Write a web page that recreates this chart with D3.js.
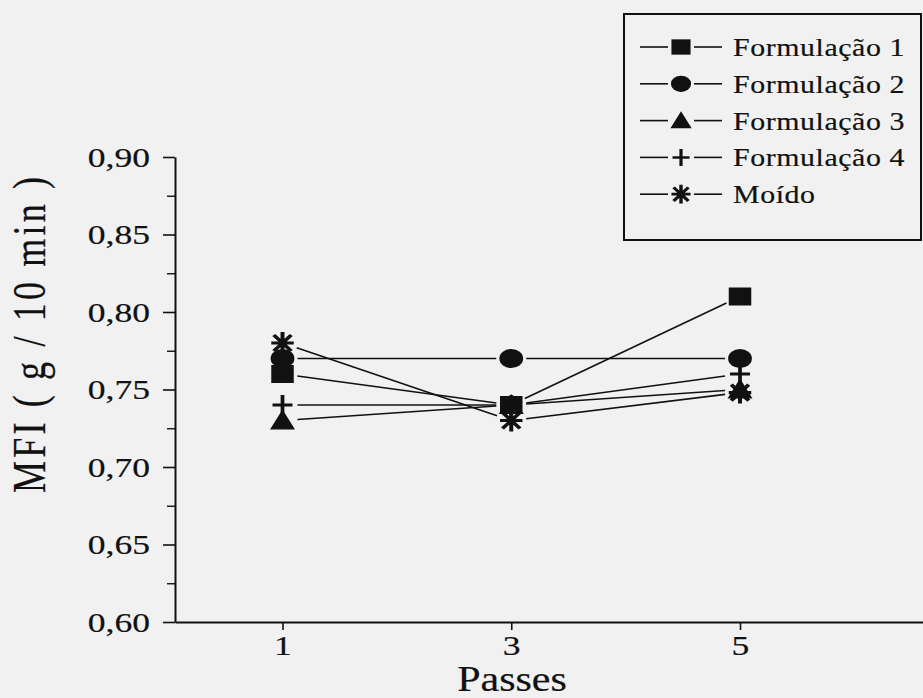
<!DOCTYPE html>
<html>
<head>
<meta charset="utf-8">
<script src="https://cdn.jsdelivr.net/npm/d3@7"></script>
<style>
  body { margin: 0; background: #f1f1f1; }
  text { font-family: "Liberation Serif", "Times New Roman", serif; fill: #111; stroke: #111; stroke-width: 0.2px; }
</style>
</head>
<body>
<div id="chart"></div>
<script>
// data
const passes = [1, 3, 5];
const seriesNames = ["Formulação 1", "Formulação 2", "Formulação 3", "Formulação 4", "Moído"];
const form1 = [0.76, 0.74, 0.81];
const form2 = [0.77, 0.77, 0.77];
const form3 = [0.73, 0.74, 0.75];
const form4 = [0.74, 0.74, 0.76];
const moido = [0.78, 0.73, 0.748];
const seriesValues = [form1, form2, form3, form4, moido];
const seriesMarkers = ["square", "circle", "triangle", "plus", "asterisk"];
const yTicks = [0.60, 0.65, 0.70, 0.75, 0.80, 0.85, 0.90];
const yMinorTicks = [0.625, 0.675, 0.725, 0.775, 0.825, 0.875];

const width = 923, height = 698;
const stretch = 1.25; // the scan is wider than tall

const svg = d3.select("#chart").append("svg")
    .attr("width", width)
    .attr("height", height);

svg.append("rect").attr("width", width).attr("height", height).attr("fill", "#f1f1f1");

const x = d3.scaleLinear().domain([0.06, 6.6]).range([175, 923]);
const y = d3.scaleLinear().domain([0.60, 0.90]).range([622, 157]);

// widen text horizontally around its anchor
function widen(sel, k) {
  sel.each(function() {
    const t = d3.select(this);
    const tx = +t.attr("x") || 0;
    t.attr("transform", `translate(${tx},0) scale(${k},1) translate(${-tx},0)`);
  });
}

// y axis
const yAxis = svg.append("g")
    .attr("transform", "translate(175,0)")
    .call(d3.axisLeft(y).tickValues(yTicks).tickSize(12).tickSizeOuter(0)
      .tickFormat(d => d3.format(".2f")(d).replace(".", ",")));
yAxis.attr("font-family", null);
yAxis.select(".domain").attr("stroke", "#111").attr("stroke-width", 2);
yAxis.selectAll(".tick line").attr("stroke", "#111").attr("stroke-width", 1.6);
yAxis.selectAll("text")
    .attr("x", -25)
    .attr("dy", "0.33em")
    .style("font-size", "28px")
    .attr("fill", "#111")
    .call(widen, 1.27);

const yMinor = svg.append("g")
    .attr("transform", "translate(175,0)")
    .call(d3.axisLeft(y).tickValues(yMinorTicks).tickSize(8).tickFormat(""));
yMinor.select(".domain").remove();
yMinor.selectAll(".tick line").attr("stroke", "#111").attr("stroke-width", 1.4);

// x axis
const xAxis = svg.append("g")
    .attr("transform", "translate(0,622)")
    .call(d3.axisBottom(x).tickValues(passes).tickSize(8).tickSizeOuter(0)
      .tickFormat(d3.format("d")));
xAxis.attr("font-family", null);
xAxis.select(".domain").attr("stroke", "#111").attr("stroke-width", 2);
xAxis.selectAll(".tick line").attr("stroke", "#111").attr("stroke-width", 1.6);
xAxis.selectAll("text")
    .attr("y", 33)
    .attr("dy", "0")
    .style("font-size", "28px")
    .attr("fill", "#111")
    .call(widen, 1.27);

// axis titles
svg.append("text")
    .attr("x", 512)
    .attr("y", 691)
    .attr("text-anchor", "middle")
    .style("font-size", "35px")
    .text("Passes")
    .call(widen, 1.2);

svg.append("g")
    .attr("transform", `translate(45,335) scale(1.3,1) rotate(-90)`)
  .append("text")
    .attr("text-anchor", "middle")
    .attr("textLength", 316)
    .attr("lengthAdjust", "spacing")
    .style("font-size", "36px")
    .text("MFI ( g / 10 min )");

// markers
function drawMarker(g, type, cx, cy, k) {
  const m = g.append("g").attr("transform", `translate(${cx},${cy}) scale(${stretch * k},${k})`);
  if (type === "square") {
    m.append("rect").attr("x", -9).attr("y", -9).attr("width", 18).attr("height", 18).attr("fill", "#111");
  } else if (type === "circle") {
    m.append("circle").attr("r", 9.5).attr("fill", "#111");
  } else if (type === "triangle") {
    m.append("path").attr("d", "M0,-11L10,9L-10,9Z").attr("fill", "#111");
  } else if (type === "plus") {
    m.append("path").attr("d", "M-8,0H8M0,-10V10")
      .attr("stroke", "#111").attr("stroke-width", 3).attr("fill", "none");
  } else {
    m.append("path").attr("d", "M-9,0H9M0,-11V11M-7,-8L7,8M-7,8L7,-8")
      .attr("stroke", "#111").attr("stroke-width", 3.2).attr("fill", "none");
  }
}

function trim(x1, y1, x2, y2, gap) {
  const dx = x2 - x1, dy = y2 - y1, L = Math.hypot(dx, dy);
  const ux = dx / L, uy = dy / L;
  return [x1 + ux * gap, y1 + uy * gap, x2 - ux * gap, y2 - uy * gap];
}

const lines = svg.append("g");
const marks = svg.append("g");
seriesValues.forEach((vals, s) => {
  for (let i = 0; i < vals.length - 1; i++) {
    const [a, b, c, d] = trim(x(passes[i]), y(vals[i]), x(passes[i + 1]), y(vals[i + 1]), 15);
    lines.append("line")
        .attr("x1", a).attr("y1", b).attr("x2", c).attr("y2", d)
        .attr("stroke", "#111").attr("stroke-width", 1.6);
  }
});
seriesValues.forEach((vals, s) => {
  vals.forEach((v, i) => drawMarker(marks, seriesMarkers[s], x(passes[i]), y(v), 1));
});

// legend
const legend = svg.append("g");
legend.append("rect")
    .attr("x", 624).attr("y", 14).attr("width", 297).attr("height", 226)
    .attr("fill", "none").attr("stroke", "#111").attr("stroke-width", 2);

seriesNames.forEach((name, i) => {
  const ly = 47 + i * 36.8;
  legend.append("line").attr("x1", 640).attr("x2", 668).attr("y1", ly).attr("y2", ly)
      .attr("stroke", "#111").attr("stroke-width", 1.6);
  legend.append("line").attr("x1", 694).attr("x2", 722).attr("y1", ly).attr("y2", ly)
      .attr("stroke", "#111").attr("stroke-width", 1.6);
  drawMarker(legend, seriesMarkers[i], 681, ly, 0.85);
  legend.append("text")
      .attr("x", 733)
      .attr("y", ly + 9)
      .style("font-size", "26px")
      .style("letter-spacing", "0.5px")
      .text(name)
      .call(widen, 1.15);
});
</script>
</body>
</html>
